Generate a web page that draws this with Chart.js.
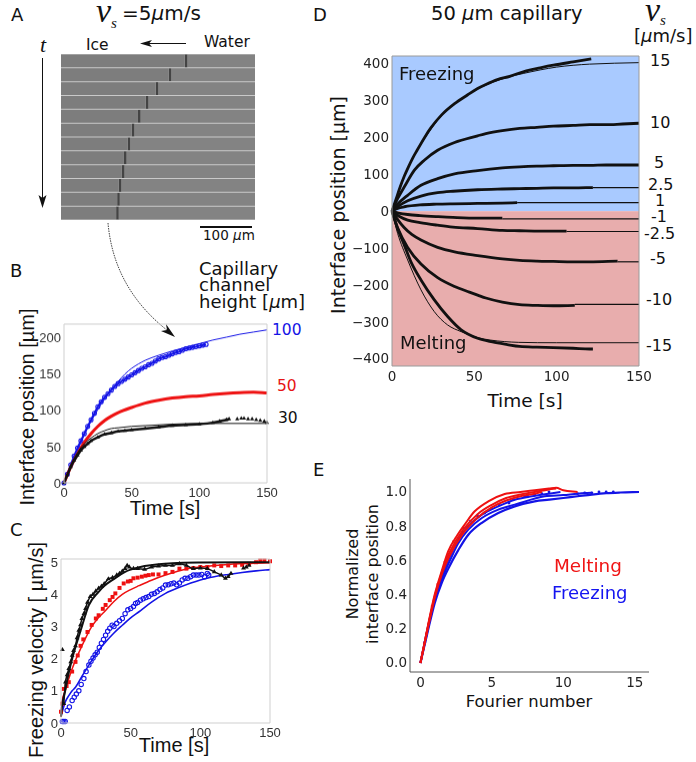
<!DOCTYPE html>
<html>
<head>
<meta charset="utf-8">
<script src="https://cdn.jsdelivr.net/npm/chart.js@4/dist/chart.umd.min.js"></script>
<style>
  html, body { margin: 0; padding: 0; background: #fff; }
  #page { position: relative; width: 696px; height: 762px; overflow: hidden; font-family: "DejaVu Sans", sans-serif; color: #111; }
  #page canvas { position: absolute; }
  #page svg { position: absolute; left: 0; top: 0; pointer-events: none; }
  .t { position: absolute; white-space: nowrap; transform: translateY(-50%); line-height: 1; }
  .v { position: absolute; white-space: nowrap; transform: translate(-50%, -50%) rotate(-90deg); line-height: 1; }
  .c { position: absolute; white-space: nowrap; transform: translate(-50%, -50%); line-height: 1; }
  .lib { font-family: "Liberation Sans", sans-serif; }
  .ser { font-family: "Liberation Serif", serif; font-style: italic; }
</style>
</head>
<body>
<div id="page">
  <svg width="696" height="762">
    <g stroke="#111" fill="#111">
      <line x1="42.5" y1="58" x2="42.5" y2="200" stroke-width="1"/>
      <path d="M38.5 195 L42.5 208 L46.5 195 L42.5 198 Z" stroke="none"/>
      <line x1="186" y1="43.5" x2="146" y2="43.5" stroke-width="1"/>
      <path d="M152 40 L140 43.5 L152 47 L149 43.5 Z" stroke="none"/>
      <line x1="200" y1="227" x2="252" y2="227" stroke-width="2"/>
      <path d="M108 223 C 112 268, 133 305, 172 334" fill="none" stroke-width="0.8" stroke-dasharray="1.5 1"/>
      <path d="M166 324 L175 337 L161 331 L167 330 Z" stroke="none"/>
    </g>
  </svg>

  <div class="t" style="left:11px;top:15px;font-size:18px">A</div>
  <div class="t" style="left:10px;top:271px;font-size:18px">B</div>
  <div class="t" style="left:10px;top:530px;font-size:18px">C</div>
  <div class="t" style="left:313px;top:15px;font-size:18px">D</div>
  <div class="t" style="left:313px;top:470px;font-size:18px">E</div>

  <div class="t ser" style="left:96px;top:11px;font-size:34px">v</div>
  <div class="t ser" style="left:111px;top:23px;font-size:15px">s</div>
  <div class="t" style="left:122px;top:13px;font-size:20px">=5<i>µ</i>m/s</div>
  <div class="t ser" style="left:40px;top:45px;font-size:22px">t</div>
  <div class="t" style="left:86px;top:46px;font-size:15.5px">Ice</div>
  <div class="t" style="left:204px;top:43px;font-size:15.5px">Water</div>
  <div class="t" style="left:203px;top:236px;font-size:13.5px">100 <i>µ</i>m</div>

  <div class="t" style="left:199px;top:269px;font-size:18px">Capillary</div>
  <div class="t" style="left:199px;top:285px;font-size:18px">channel</div>
  <div class="t" style="left:199px;top:302px;font-size:18px">height [<i>µ</i>m]</div>
  <div class="t" style="left:272px;top:331px;font-size:15.5px;color:#1414e6">100</div>
  <div class="t" style="left:277px;top:387px;font-size:15.5px;color:#e61414">50</div>
  <div class="t" style="left:278px;top:419px;font-size:15.5px">30</div>
  <div class="v lib" style="left:27px;top:407px;font-size:20px">Interface position [µm]</div>
  <div class="c lib" style="left:165px;top:508px;font-size:20px">Time [s]</div>

  <div class="v lib" style="left:36px;top:650px;font-size:20px">Freezing velocity [ µm/s]</div>
  <div class="c lib" style="left:174px;top:745px;font-size:20px">Time [s]</div>

  <div class="t" style="left:431px;top:14px;font-size:19.5px">50 <i>µ</i>m capillary</div>
  <div class="t ser" style="left:645px;top:10px;font-size:34px">v</div>
  <div class="t ser" style="left:660px;top:20px;font-size:15px">s</div>
  <div class="t" style="left:634px;top:36px;font-size:18px">[<i>µ</i>m/s]</div>
  <div class="t" style="left:650px;top:61px;font-size:16px">15</div>
  <div class="t" style="left:650px;top:123px;font-size:16px">10</div>
  <div class="t" style="left:654px;top:163px;font-size:16px">5</div>
  <div class="t" style="left:648px;top:185px;font-size:16px">2.5</div>
  <div class="t" style="left:655px;top:201px;font-size:16px">1</div>
  <div class="t" style="left:651px;top:217px;font-size:16px">-1</div>
  <div class="t" style="left:644px;top:234px;font-size:16px">-2.5</div>
  <div class="t" style="left:650px;top:259px;font-size:16px">-5</div>
  <div class="t" style="left:646px;top:300px;font-size:16px">-10</div>
  <div class="t" style="left:646px;top:346px;font-size:16px">-15</div>
  <div class="v" style="left:338px;top:205px;font-size:19px">Interface position [µm]</div>
  <div class="c" style="left:525px;top:401px;font-size:18.5px">Time [s]</div>
  <div class="t" style="left:399px;top:74px;font-size:18px;z-index:2">Freezing</div>
  <div class="t" style="left:400px;top:343px;font-size:18px;z-index:2">Melting</div>

  <div class="c" style="left:529px;top:702px;font-size:16.4px">Fourier number</div>
  <div class="v" style="left:353px;top:574px;font-size:16px">Normalized</div>
  <div class="v" style="left:373px;top:574px;font-size:16px">interface position</div>
  <div class="t" style="left:554px;top:566px;font-size:18.4px;color:#f01414;z-index:2">Melting</div>
  <div class="t" style="left:552px;top:593px;font-size:18px;color:#1414f0;z-index:2">Freezing</div>
</div>

<script>
// Panel A: interface position in each frame, in um from the left edge of the strip
const aFrames = ['1', '2', '3', '4', '5', '6', '7', '8', '9', '10', '11', '12'];
const aInterface = [238, 207, 182, 163, 148, 136, 128, 121, 117, 111, 108, 106];
const aStripe = 5;
const aWidth = 373;

// Panel B
const bTicksX = [0, 50, 100, 150];
const bTicksY = [0, 50, 100, 150, 200];
const bBlueT = [0, 2.5, 5, 7.5, 10, 12.5, 15, 17.5, 20, 22.5, 25, 27.5, 30, 32.5, 35, 37.5, 40, 42.5, 45, 47.5, 50, 52.5, 55, 57.5, 60, 62.5, 65, 67.5, 70, 72.5, 75, 77.5, 80, 82.5, 85, 87.5, 90, 92.5, 95, 97.5, 100, 102.5, 105];
const bBlue = [0, 12, 25, 37, 48, 58, 68, 78, 87, 96, 105, 112, 118, 123, 128, 133, 137, 140, 143, 146, 149, 152, 155, 158, 160, 163, 165, 168, 171, 173, 174, 176, 178, 180, 181, 183, 185, 186, 187, 188, 189, 190, 191];
const bBlueFitT = [0, 5, 10, 15, 20, 25, 30, 35, 40, 45, 50, 60, 70, 80, 90, 100, 110, 120, 130, 140, 150];
const bBlueFit = [0, 23, 45, 66, 85, 101, 116, 129, 140, 150, 158, 169, 176, 182, 187, 192, 197, 201, 205, 208, 211];
const bRedT = [0, 5, 10, 15, 20, 25, 30, 35, 40, 50, 60, 70, 80, 90, 100, 110, 120, 130, 140, 150];
const bRed = [0, 22, 40, 56, 68, 78, 86, 92, 97, 104, 110, 114, 117, 119, 120, 122, 123.5, 124.5, 125, 124];
const bBlackT = [0, 2.5, 5, 7.5, 10, 12.5, 15, 17.5, 20, 25, 30, 35, 40, 45, 50, 60, 70, 80, 90, 100, 110, 115, 120, 122];
const bBlack = [0, 11, 22, 31, 38, 45, 50, 54, 58, 63, 67, 69, 71, 72, 73, 75, 77, 79, 80, 81, 83, 85, 87, 88];
const bBlackTailT = [128, 131, 133, 136, 139, 142, 145, 148, 150];
const bBlackTail = [88, 89, 89, 88, 88, 87, 86, 85, 83];
const bBlackFitT = [0, 5, 10, 15, 20, 25, 30, 35, 40, 50, 60, 80, 100, 150];
const bBlackFit = [0, 24, 42, 54, 62, 68, 72, 75, 76, 78, 79, 81, 82, 82];

// Panel C
const cTicksX = [0, 50, 100, 150];
const cTicksY = [0, 1, 2, 3, 4, 5];
const cBlueT = [1, 2, 3, 4.4, 6, 8, 9.5, 11, 12.8, 14.5, 16.4, 18, 20, 21.5, 23, 24.5, 26, 27.5, 29, 30.5, 32, 33.5, 35, 36.7, 38, 40, 42, 44, 46, 48, 50, 52, 53.5, 55, 57, 59, 61, 63, 65, 67, 69, 71, 73, 75, 77, 79, 81, 83, 85, 87, 89, 91, 93, 95, 97, 99, 101, 103, 105, 106];
const cBlue = [0.05, 0.05, 0.05, 0.39, 0.5, 0.7, 0.8, 0.9, 1.0, 1.2, 1.38, 1.6, 1.8, 1.92, 2.02, 2.12, 2.2, 2.35, 2.48, 2.6, 2.73, 2.85, 2.95, 3.04, 3.0, 3.1, 3.18, 3.25, 3.4, 3.52, 3.56, 3.62, 3.72, 3.75, 3.82, 3.86, 3.9, 3.93, 4.0, 4.03, 4.08, 4.15, 4.2, 4.29, 4.3, 4.33, 4.35, 4.3, 4.35, 4.45, 4.5, 4.5, 4.55, 4.6, 4.6, 4.6, 4.62, 4.55, 4.65, 4.6];
const cBlueFitT = [0, 0.8, 3, 5.6, 8, 10.4, 15, 20, 26, 32, 38, 44, 50, 56, 65, 75, 85, 100, 110, 120, 130, 140, 150];
const cBlueFit = [0.2, 0.33, 0.65, 0.85, 1.0, 1.11, 1.45, 1.8, 2.2, 2.52, 2.8, 3.04, 3.27, 3.46, 3.76, 4.03, 4.22, 4.45, 4.55, 4.62, 4.68, 4.73, 4.77];
const cRedT = [0, 1, 2, 4, 5.6, 8, 10.4, 12, 14, 16, 19, 22, 25, 27, 30, 32, 35, 37, 39, 42, 45, 48, 50, 52, 55, 58, 60.6, 63, 66, 70, 75, 80, 85, 90, 95, 100, 105, 110, 115, 120, 125, 130, 135, 140, 143, 146, 150];
const cRed = [0.35, 0.6, 1.06, 1.15, 1.27, 1.6, 1.9, 2.1, 2.4, 2.6, 2.83, 3.05, 3.25, 3.35, 3.55, 3.67, 3.82, 3.92, 4.03, 4.2, 4.34, 4.4, 4.42, 4.5, 4.52, 4.55, 4.58, 4.6, 4.62, 4.62, 4.66, 4.7, 4.8, 4.8, 4.82, 4.85, 4.85, 4.9, 4.88, 4.9, 4.9, 4.92, 4.95, 5.0, 5.05, 5.05, 5.03];
const cRedFitT = [0, 0.8, 3, 5, 8, 15, 22, 27, 32, 38, 44, 50, 56, 65, 75, 90, 100, 120, 150];
const cRedFit = [0.2, 0.65, 1.0, 1.3, 1.69, 2.4, 3.0, 3.28, 3.5, 3.78, 4.0, 4.15, 4.27, 4.44, 4.6, 4.79, 4.85, 4.93, 4.98];
const cBlackT = [1, 2, 3.2, 4.4, 5.6, 7, 8, 9, 10.4, 11.5, 12.8, 14, 15, 16.5, 17.6, 19, 21, 23, 25, 27, 29, 31, 34, 37, 40, 42, 44, 46, 47.5, 49, 52, 55, 60, 65, 70, 75, 80, 85, 90, 95, 100, 105, 110, 115, 118, 120, 122];
const cBlack = [2.28, 0.6, 1.27, 1.5, 1.69, 1.9, 2.1, 2.25, 2.4, 2.65, 2.88, 3.05, 3.25, 3.4, 3.56, 3.75, 3.93, 4.0, 4.1, 4.19, 4.25, 4.33, 4.48, 4.52, 4.6, 4.65, 4.72, 4.8, 4.9, 4.85, 4.8, 4.8, 4.78, 4.85, 4.88, 4.9, 4.9, 4.95, 4.9, 4.8, 4.82, 4.8, 4.7, 4.6, 4.5, 4.55, 4.65];
const cBlackTailT = [131, 133, 135];
const cBlackTail = [4.82, 4.85, 4.9];
const cBlackFitT = [0, 0.8, 3, 5, 8, 15, 20, 27, 32, 37, 46, 50, 60, 70, 80, 100, 150];
const cBlackFit = [0.2, 0.55, 1.0, 1.45, 2.0, 3.0, 3.67, 4.08, 4.3, 4.45, 4.7, 4.77, 4.88, 4.94, 4.97, 4.99, 5];

// Panel D, thick = measured, thin = fit
const dTicksX = [0, 50, 100, 150];
const dTicksY = [-400, -300, -200, -100, 0, 100, 200, 300, 400];
const dT15 = [0, 2.5, 5, 7.5, 10, 12.5, 15, 20, 23.7, 30, 38, 46, 52, 57, 64, 71.5, 81.6, 90, 98, 110, 121];
const d15 = [0, 33, 66, 95, 120, 143, 163, 201, 226, 260, 291, 315, 332, 343, 356, 365, 380, 388, 395, 404, 412];
const dFit15T = [0, 5, 10, 20, 30, 40, 50, 60, 70, 80, 100, 120, 150];
const dFit15 = [0, 66, 120, 198, 258, 298, 326, 347, 362, 373, 390, 398, 402];
const dT10 = [0, 3.4, 7.5, 13.6, 19.6, 27.7, 38, 52, 57, 67, 77.5, 88, 98, 110, 120, 130, 140, 150];
const d10 = [0, 34, 66, 111, 138, 165, 186, 204, 210, 218, 224, 227, 230, 232, 234, 234, 236, 238];
const dT5 = [0, 3.4, 9.5, 17.6, 27.7, 38, 52, 67, 77.5, 88, 98, 110, 120, 130, 140, 150];
const d5 = [0, 19, 43, 70, 88, 101, 110, 117, 120, 122, 123, 124, 124, 125, 125, 125];
const dT25 = [0, 3, 9.5, 17.6, 27.7, 37, 52, 67, 77.5, 88, 98, 110, 122];
const d25 = [0, 11, 28, 41, 50, 54, 58, 60, 61, 62, 63, 63, 64];
const dT1 = [0, 3, 7.5, 17, 27, 37, 52, 67, 76];
const d1 = [0, 7, 12, 17, 19, 20, 21, 22, 23];
const dTm1 = [0, 4, 9.5, 17, 28, 37, 52, 67];
const dm1 = [0, -5, -9, -12, -15, -17, -19, -19];
const dTm25 = [0, 4, 9.5, 17, 27.7, 37, 52, 67, 77.5, 90, 106];
const dm25 = [0, -13, -24, -31, -38, -43, -47, -52, -53, -54, -54];
const dTm5 = [0, 3, 7.5, 12, 17.6, 27.7, 38, 52, 67, 77.5, 88, 98, 110, 120, 137];
const dm5 = [0, -20, -45, -63, -78, -98, -110, -120, -129, -133, -135, -136, -137, -137, -135];
const dTm10 = [0, 3.4, 9.5, 17.6, 27.7, 38, 47, 52, 57, 67, 77.5, 88, 98, 111];
const dm10 = [0, -45, -98, -143, -180, -204, -219, -227, -235, -246, -253, -255, -256, -255];
const dTm15 = [0, 3.4, 7.5, 11.5, 17.6, 25.7, 33.8, 42, 52, 61, 70, 77.5, 88, 98, 110, 120, 122];
const dm15 = [0, -47, -92, -137, -186, -240, -285, -321, -344, -354, -361, -366, -368, -369, -371, -373, -373];
const dFitM15T = [0, 3.4, 9.5, 17.6, 25.7, 33.8, 42, 52, 60, 77, 100, 150];
const dFitM15 = [0, -60, -132, -213, -272, -308, -326, -342, -349, -355, -356, -356];
const dFitEnds = [[64, 122], [23, 76], [-21, 67], [-55, 106], [-137, 137], [-252, 111]];

// Panel E, normalized curves against Fourier number
const eTicksX = [0, 5, 10, 15];
const eTicksY = [0, 0.2, 0.4, 0.6, 0.8, 1.0];
const eB1F = [0, 0.25, 0.5, 1, 1.5, 2, 2.65, 3.35, 4.3, 5.45, 6.6, 8, 9, 10, 11, 12, 13, 14, 15.3];
const eB1 = [0, 0.09, 0.18, 0.35, 0.47, 0.56, 0.66, 0.75, 0.82, 0.877, 0.916, 0.945, 0.955, 0.965, 0.975, 0.985, 0.993, 0.997, 1];
const eB2F = [0, 0.5, 1, 1.7, 2.18, 2.65, 3.35, 4.3, 5.45, 6.6, 8.7, 10, 11, 12];
const eB2 = [0, 0.19, 0.37, 0.53, 0.62, 0.7, 0.78, 0.848, 0.897, 0.926, 0.975, 0.982, 0.99, 0.995];
const eB3F = [0, 0.5, 1, 1.94, 2.65, 3.35, 4.3, 5.45, 6.6, 7.8, 9, 9.8];
const eB3 = [0, 0.2, 0.38, 0.6, 0.72, 0.8, 0.867, 0.916, 0.955, 0.975, 0.99, 1.0];
const eB4F = [0.3, 0.7, 1.2, 1.6, 3, 3.5, 4, 4.5, 5, 5.5, 6.2, 6.5, 7.3, 7.5, 8, 8.5, 9];
const eB4 = [0.12, 0.27, 0.43, 0.53, 0.79, 0.83, 0.86, 0.877, 0.905, 0.925, 0.935, 0.955, 0.975, 0.975, 0.985, 0.99, 1.0];
const eB5F = [11, 11.5, 12, 12.5, 13, 13.5];
const eB5 = [0.99, 0.995, 0.995, 1.0, 1.0, 1.0];
const eR1F = [0, 0.25, 0.54, 1, 1.5, 1.94, 2.6, 3.1, 3.8, 4.75, 5.9, 7, 8, 9, 9.5, 10, 11];
const eR1 = [0, 0.1, 0.224, 0.4, 0.54, 0.653, 0.75, 0.81, 0.887, 0.945, 0.988, 1.0, 1.01, 1.02, 1.025, 1.01, 1.0];
const eR2F = [0, 0.54, 1, 1.5, 2, 3, 4, 5, 6, 7, 8, 9, 9.5];
const eR2 = [0, 0.22, 0.39, 0.53, 0.64, 0.78, 0.87, 0.925, 0.965, 0.985, 1.0, 1.015, 1.02];
const eR3F = [0, 0.54, 1, 1.5, 2, 3, 4, 5, 6, 7, 8, 8.5];
const eR3 = [0, 0.21, 0.38, 0.52, 0.62, 0.76, 0.85, 0.91, 0.95, 0.975, 0.99, 1.0];
const eR4F = [0.2, 0.4, 0.8, 1.2, 1.7, 2.3];
const eR4 = [0.08, 0.17, 0.33, 0.46, 0.59, 0.71];

const BLUE = '#1414e6', RED = '#ee1111', BLACK = '#111111';
const SKY = '#a9caff', ROSE = '#e8adad', FRAME = '#cfcfcf';

function pts(xs, ys) {
	return xs.map((x, i) => ({ x, y: ys[i] }));
}

function line(xs, ys, color, width, extra) {
	return Object.assign({
		data: pts(xs, ys), showLine: true, borderColor: color, backgroundColor: color, borderWidth: width,
		pointRadius: 0, cubicInterpolationMode: 'monotone', fill: false
	}, extra || {});
}

function dots(xs, ys, color, style, radius, open) {
	return {
		data: pts(xs, ys), showLine: false, pointStyle: style, pointRadius: radius,
		pointBorderColor: color, pointBorderWidth: open ? 1.1 : 0,
		pointBackgroundColor: open ? 'rgba(0,0,0,0)' : color
	};
}

// frame round the plot area, plus the freezing/melting background on D
const panelPlugin = {
	id: 'panel',
	beforeDatasetsDraw(chart, args, opts) {
		if (!opts.split) return;
		const { ctx, chartArea: a, scales } = chart;
		const zero = scales.y.getPixelForValue(0);
		ctx.save();
		ctx.fillStyle = SKY;
		ctx.fillRect(a.left, a.top, a.width, zero - a.top);
		ctx.fillStyle = ROSE;
		ctx.fillRect(a.left, zero, a.width, a.bottom - zero);
		ctx.restore();
	},
	afterDatasetsDraw(chart, args, opts) {
		const { ctx, chartArea: a } = chart;
		ctx.save();
		ctx.lineWidth = opts.width || 1;
		ctx.strokeStyle = opts.color || FRAME;
		ctx.beginPath();
		ctx.moveTo(a.left, a.top);
		ctx.lineTo(a.left, a.bottom);
		ctx.lineTo(a.right, a.bottom);
		if (!opts.open) {
			ctx.lineTo(a.right, a.top);
			ctx.closePath();
		}
		ctx.stroke();
		ctx.restore();
	}
};

const MARGIN = { left: 46, right: 18, top: 12, bottom: 24 };

function addCanvas(left, top, w, h) {
	const c = document.createElement('canvas');
	c.width = w; c.height = h;
	c.style.left = left + 'px'; c.style.top = top + 'px';
	c.style.width = w + 'px'; c.style.height = h + 'px';
	document.getElementById('page').appendChild(c);
	return c;
}

function axis(min, max, ticks, font, fmt, tickColor, labelOffset) {
	return {
		type: 'linear', min, max,
		grid: { display: false, drawTicks: false },
		border: { display: false },
		afterBuildTicks(s) { s.ticks = ticks.map(value => ({ value })); },
		ticks: { font, color: tickColor, padding: 3, maxRotation: 0, autoSkip: false, callback: fmt, labelOffset: labelOffset || 0 }
	};
}

function plot(box, xAxis, yAxis, datasets, panel) {
	const canvas = addCanvas(box.left - MARGIN.left, box.top - MARGIN.top,
		box.width + MARGIN.left + MARGIN.right, box.height + MARGIN.top + MARGIN.bottom);
	xAxis.afterFit = s => { s.height = MARGIN.bottom; s.paddingLeft = s.paddingRight = 0; };
	yAxis.afterFit = s => { s.width = MARGIN.left; s.paddingTop = s.paddingBottom = 0; };
	return new Chart(canvas, {
		type: 'scatter',
		data: { datasets },
		plugins: [panelPlugin],
		options: {
			responsive: false, animation: false, clip: false,
			layout: { padding: { top: MARGIN.top, right: MARGIN.right, left: 0, bottom: 0 } },
			plugins: { legend: { display: false }, tooltip: { enabled: false }, panel },
			scales: { x: xAxis, y: yAxis }
		}
	});
}

const plain = v => String(v);
const minus = v => (v < 0 ? '\u2212' + (-v) : String(v));
const oneDec = v => v.toFixed(1);
const libFont = { family: 'Liberation Sans', size: 13 };
const dejaFont = { family: 'DejaVu Sans', size: 13.5 };

// A: image strips as stacked horizontal bars
const aCanvas = addCanvas(61, 54, 194, 166);
aCanvas.style.background = '#c9c9c9';
new Chart(aCanvas, {
	type: 'bar',
	data: {
		labels: aFrames,
		datasets: [
			{ data: aInterface, backgroundColor: '#7d7d7d' },
			{ data: aInterface.map(() => aStripe), backgroundColor: '#444444' },
			{ data: aInterface.map(v => aWidth - v - aStripe), backgroundColor: '#838383' }
		]
	},
	options: {
		indexAxis: 'y', responsive: false, animation: false,
		layout: { padding: 0 },
		datasets: { bar: { barPercentage: 1, categoryPercentage: 0.93, borderWidth: 0 } },
		plugins: { legend: { display: false }, tooltip: { enabled: false } },
		scales: {
			x: { display: false, stacked: true, min: 0, max: aWidth },
			y: { display: false, stacked: true }
		}
	}
});

// B
plot({ left: 64, top: 324, width: 203, height: 158.5 },
	axis(0, 150, bTicksX, libFont, plain, '#333'),
	axis(0, 219, bTicksY, libFont, plain, '#333', 1),
	[
		line(bBlackFitT, bBlackFit, BLACK, 1),
		dots(bBlackTailT, bBlackTail, BLACK, 'triangle', 2.4),
		dots(bBlackT, bBlack, BLACK, 'triangle', 2.4),
		line(bBlackT, bBlack, BLACK, 2.5),
		line(bRedT, bRed, RED, 3),
		line(bBlueFitT, bBlueFit, BLUE, 1),
		dots(bBlueT, bBlue, BLUE, 'circle', 2, true),
		line(bBlueT, bBlue, BLUE, 2)
	], { color: FRAME });

// C
plot({ left: 60.5, top: 558.5, width: 209, height: 164 },
	axis(0, 150, cTicksX, libFont, plain, '#333'),
	axis(0, 5.1, cTicksY, libFont, plain, '#333', 1),
	[
		dots(cBlackTailT, cBlackTail, BLACK, 'triangle', 2.8),
		dots(cBlackT, cBlack, BLACK, 'triangle', 2.8),
		line(cBlackT.slice(1), cBlack.slice(1), BLACK, 1.5),
		line(cBlackFitT, cBlackFit, BLACK, 2),
		dots(cRedT, cRed, RED, 'rect', 2.8),
		line(cRedFitT, cRedFit, RED, 1.5),
		dots(cBlueT, cBlue, BLUE, 'circle', 2.2, true),
		line(cBlueFitT, cBlueFit, BLUE, 1.6)
	], { color: FRAME });

// D
const dMeasured = [
	[dT15, d15], [dT10, d10], [dT5, d5], [dT25, d25], [dT1, d1],
	[dTm1, dm1], [dTm25, dm25], [dTm5, dm5], [dTm10, dm10], [dTm15, dm15]
];
plot({ left: 392.3, top: 56, width: 247, height: 310 },
	axis(0, 150, dTicksX, dejaFont, plain, '#222'),
	axis(-419, 420, dTicksY, dejaFont, minus, '#222', 1),
	[
		...dMeasured.map(([t, v]) => line(t, v, BLACK, 2.8)),
		line(dFit15T, dFit15, BLACK, 1),
		line(dFitM15T, dFitM15, BLACK, 1),
		...dFitEnds.map(([level, from]) => line([from, 150], [level, level], BLACK, 1.2))
	], { split: true, color: '#9a9a9a' });

// E
plot({ left: 410.3, top: 479.3, width: 239, height: 193 },
	axis(-0.73, 16, eTicksX, dejaFont, plain, '#222'),
	axis(-0.053, 1.076, eTicksY, dejaFont, oneDec, '#222', 1),
	[
		dots(eR4F, eR4, RED, 'rect', 1.5),
		line(eR1F, eR1, RED, 2),
		line(eR2F, eR2, RED, 2),
		line(eR3F, eR3, RED, 2),
		dots(eB4F, eB4, BLUE, 'circle', 1.4),
		dots(eB5F, eB5, BLUE, 'circle', 1.4),
		line(eB3F, eB3, BLUE, 2),
		line(eB2F, eB2, BLUE, 2),
		line(eB1F, eB1, BLUE, 2.2)
	], { open: true, color: '#555' });
</script>
</body>
</html>
